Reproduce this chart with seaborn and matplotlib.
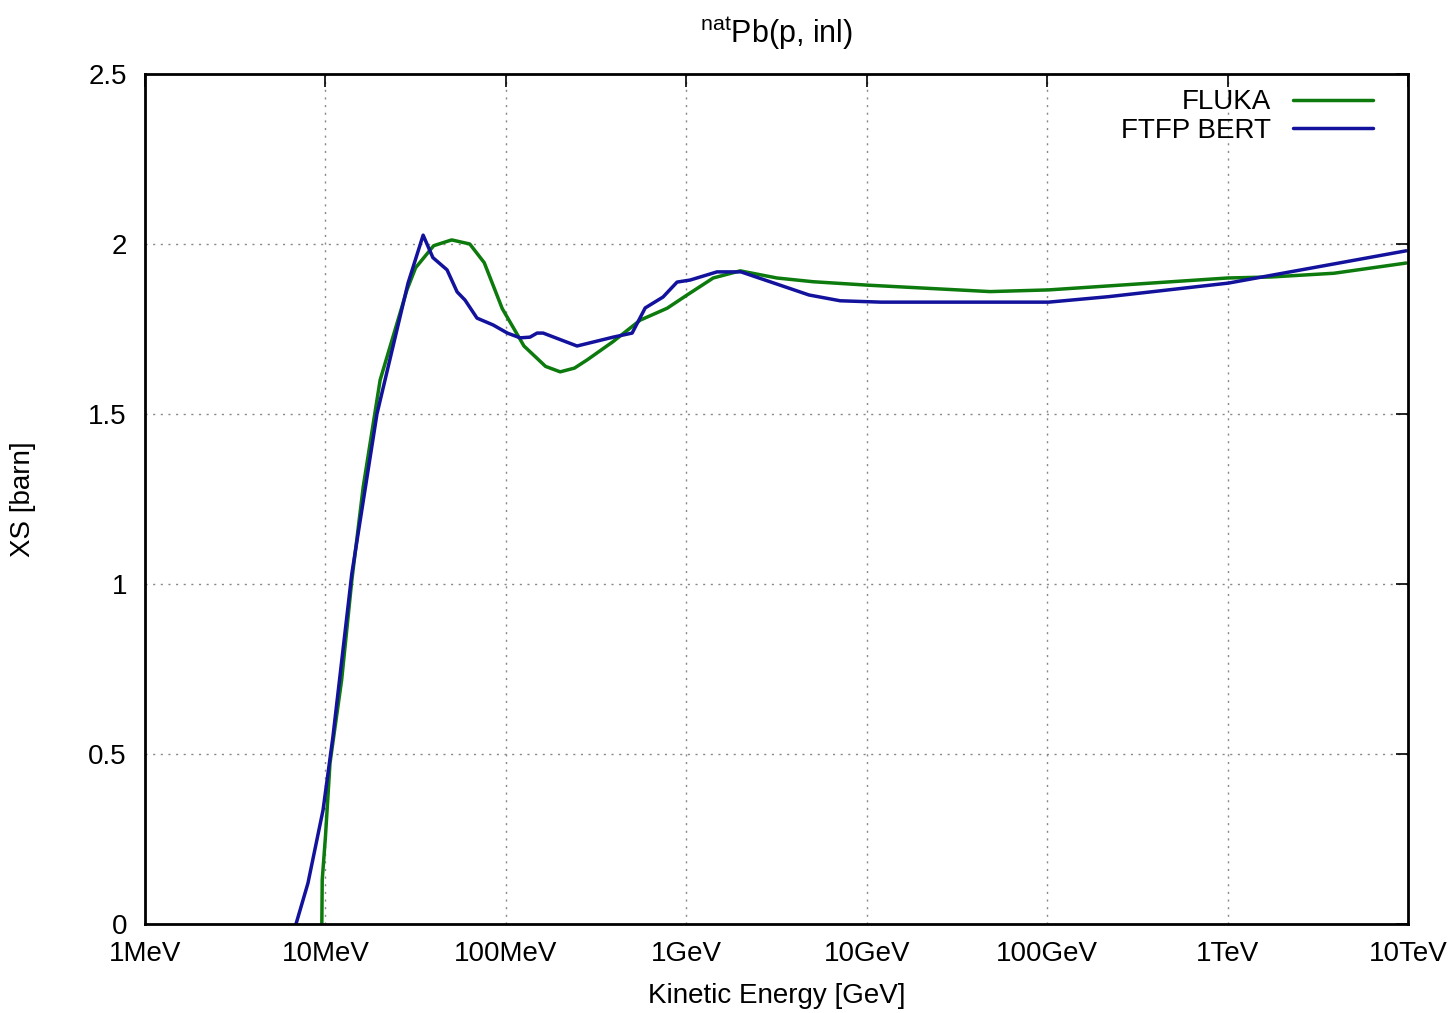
import numpy as np
import pandas as pd
import matplotlib
matplotlib.use("Agg")
import matplotlib.pyplot as plt
import seaborn as sns

# kinetic energy [GeV] and cross section [barn]
fluka_E = [9.55e-3, 9.6e-3, 1.0e-2, 1.06e-2, 1.23e-2, 1.40e-2, 1.62e-2, 2.01e-2,
           2.83e-2, 3.16e-2, 3.98e-2, 5.01e-2, 6.31e-2, 7.59e-2, 9.55e-2, 0.126,
           0.166, 0.200, 0.240, 0.282, 0.393, 0.555, 0.783, 1.01, 1.41, 1.99,
           3.18, 5.05, 10.1, 48.3, 102.0, 1000.0, 1740.0, 3890.0, 9770.0]
fluka_XS = [0.0, 0.13, 0.256, 0.473, 0.718, 1.01, 1.286, 1.60,
            1.865, 1.93, 1.995, 2.012, 2.0, 1.945, 1.81, 1.70,
            1.64, 1.624, 1.635, 1.659, 1.713, 1.776, 1.811, 1.85, 1.90, 1.921,
            1.90, 1.889, 1.879, 1.86, 1.865, 1.90, 1.903, 1.914, 1.944]

bert_E = [6.87e-3, 8.0e-3, 9.7e-3, 1.10e-2, 1.40e-2, 1.93e-2, 2.87e-2, 3.48e-2,
          3.94e-2, 4.72e-2, 5.37e-2, 5.94e-2, 6.92e-2, 8.49e-2, 0.102, 0.120,
          0.136, 0.149, 0.161, 0.248, 0.393, 0.501, 0.592, 0.743, 0.889, 1.05,
          1.48, 2.01, 4.79, 7.13, 12.0, 102.0, 218.0, 1010.0, 9770.0]
bert_XS = [0.0, 0.12, 0.335, 0.55, 1.03, 1.50, 1.885, 2.026,
           1.96, 1.924, 1.859, 1.835, 1.782, 1.762, 1.738, 1.724,
           1.726, 1.738, 1.738, 1.70, 1.726, 1.738, 1.812, 1.844, 1.888, 1.894,
           1.918, 1.918, 1.85, 1.833, 1.829, 1.829, 1.845, 1.885, 1.98]

x_ticks = [1e-3, 1e-2, 1e-1, 1, 10, 100, 1000, 10000]
x_ticklabels = ["1MeV", "10MeV", "100MeV", "1GeV", "10GeV", "100GeV", "1TeV", "10TeV"]
y_ticks = [0, 0.5, 1, 1.5, 2, 2.5]
y_ticklabels = ["0", "0.5", "1", "1.5", "2", "2.5"]

sns.set_style("white")
plt.rcParams["font.family"] = ["Liberation Sans", "DejaVu Sans"]
plt.rcParams["mathtext.fontset"] = "custom"
plt.rcParams["mathtext.rm"] = "Liberation Sans"
for k in ["text.color", "axes.labelcolor", "xtick.color", "ytick.color"]:
    plt.rcParams[k] = "black"

fig = plt.figure(figsize=(14.54, 10.13), dpi=100)
ax = fig.add_axes([145 / 1454, 89 / 1013, 1263 / 1454, 850 / 1013])

df_fluka = pd.DataFrame({"E": fluka_E, "XS": fluka_XS})
df_bert = pd.DataFrame({"E": bert_E, "XS": bert_XS})
sns.lineplot(data=df_fluka, x="E", y="XS", ax=ax, color="#0c7a0c", lw=2.5,
             sort=False, estimator=None, label="FLUKA")
sns.lineplot(data=df_bert, x="E", y="XS", ax=ax, color="#12129c", lw=2.5,
             sort=False, estimator=None, label="FTFP BERT")

ax.set_xscale("log")
ax.set_xlim(1e-3, 1e4)
ax.set_ylim(0, 2.5)
ax.set_xticks(x_ticks)
ax.set_xticklabels(x_ticklabels)
ax.set_yticks(y_ticks)
ax.set_yticklabels(y_ticklabels)
ax.minorticks_off()
ax.tick_params(direction="in", length=9, width=1.2, labelsize=20, pad=12,
               top=True, right=True, colors="black")
ax.tick_params(axis="y", pad=13)
ax.grid(True, color="#888888", ls=(0, (1.5, 4)), lw=1.0)
for s in ax.spines.values():
    s.set_linewidth(2)
    s.set_color("black")

ax.set_xlabel("Kinetic Energy [GeV]", fontsize=20, labelpad=12)
ax.set_ylabel("XS [barn]", fontsize=20, labelpad=38)
ax.set_title(r"$^{\mathrm{nat}}$Pb(p, inl)", fontsize=22, pad=22)

leg = ax.legend(loc="upper right", bbox_to_anchor=(0.984, 1.0), frameon=False,
                markerfirst=False, fontsize=20, handlelength=2.85, handletextpad=0.8,
                labelspacing=0.1, borderaxespad=0.15)
for t in leg.get_texts():
    t.set_color("black")

fig.savefig("out.png", dpi=100)
